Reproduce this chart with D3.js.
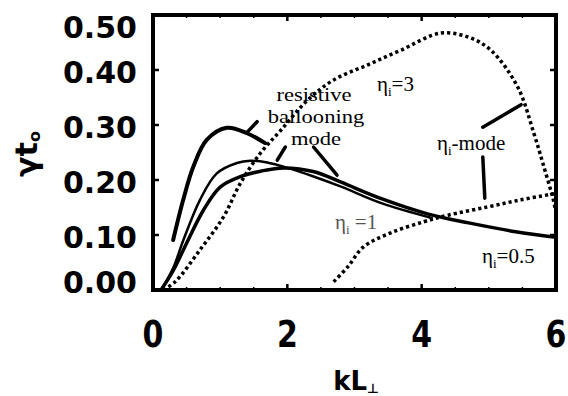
<!DOCTYPE html>
<html>
<head>
<meta charset="utf-8">
<script src="https://cdn.jsdelivr.net/npm/d3@7"></script>
<style>
	body { margin: 0; background: #fff; }
	svg { display: block; }
</style>
</head>
<body>
<svg id="chart" width="568" height="396"></svg>
<script>

// growth rate curves, [kL, gamma t0]
const curveHigh = [[0.30, 0.091], [0.45, 0.164], [0.60, 0.224], [0.80, 0.273], [1.10, 0.295], [1.40, 0.285], [1.67, 0.267]];
const curveMid = [[0.12, 0.0], [0.30, 0.040], [0.45, 0.090], [0.70, 0.164], [0.95, 0.212], [1.25, 0.231], [1.45, 0.235], [1.70, 0.232], [2.00, 0.222], [2.40, 0.206], [2.80, 0.188], [3.40, 0.158], [4.15, 0.131]];
const curveLow = [[0.12, 0.0], [0.30, 0.035], [0.50, 0.085], [0.75, 0.145], [1.00, 0.187], [1.30, 0.206], [1.60, 0.216], [1.95, 0.222], [2.40, 0.215], [2.80, 0.196], [3.40, 0.166], [4.10, 0.138], [4.70, 0.122], [5.40, 0.106], [6.00, 0.096]];
const etaThree = [[0.15, 0.0], [0.33, 0.015], [0.70, 0.073], [1.05, 0.133], [1.30, 0.194], [1.60, 0.249], [1.90, 0.290], [2.30, 0.345], [2.69, 0.382], [3.19, 0.409], [3.69, 0.436], [4.28, 0.467], [4.69, 0.460], [5.03, 0.436], [5.43, 0.369], [5.67, 0.285], [5.82, 0.224], [5.96, 0.164], [6.00, 0.140]];
const etaOne = [[2.69, 0.015], [2.90, 0.042], [3.13, 0.078], [3.54, 0.104], [4.03, 0.124], [4.39, 0.136], [4.98, 0.151], [5.48, 0.164], [5.97, 0.175]];

// label pointer segments
const pointers = [
	[[1.41, 0.288], [1.55, 0.306]],
	[[1.85, 0.236], [1.97, 0.260]],
	[[2.39, 0.260], [2.74, 0.209]],
	[[4.91, 0.296], [5.48, 0.337]],
	[[4.91, 0.242], [4.94, 0.167]]
];

const xTicks = [0, 2, 4, 6];
const yTicks = [0, 0.1, 0.2, 0.3, 0.4, 0.5];
const xMinor = [0.5, 1, 1.5, 2.5, 3, 3.5, 4.5, 5, 5.5];

const svg = d3.select('#chart');
const x = d3.scaleLinear().domain([0, 6]).range([153, 556]);
const y = d3.scaleLinear().domain([0, 0.5]).range([290, 15]);

const line = d3.line()
	.x(d => x(d[0]))
	.y(d => y(d[1]))
	.curve(d3.curveCatmullRom.alpha(0.5));

// ticks, inward
const ticks = svg.append('g').attr('stroke', '#000').attr('stroke-width', 2.5);
yTicks.forEach(v => {
	ticks.append('line').attr('x1', x(0)).attr('x2', x(0) + 6).attr('y1', y(v)).attr('y2', y(v));
	ticks.append('line').attr('x1', x(6)).attr('x2', x(6) - 6).attr('y1', y(v)).attr('y2', y(v));
});
xTicks.forEach(v => {
	ticks.append('line').attr('x1', x(v)).attr('x2', x(v)).attr('y1', y(0)).attr('y2', y(0) - 6);
	ticks.append('line').attr('x1', x(v)).attr('x2', x(v)).attr('y1', y(0.5)).attr('y2', y(0.5) + 6);
});
xMinor.forEach(v => {
	ticks.append('line').attr('stroke-width', 1.5).attr('x1', x(v)).attr('x2', x(v)).attr('y1', y(0)).attr('y2', y(0) - 3);
	ticks.append('line').attr('stroke-width', 1.5).attr('x1', x(v)).attr('x2', x(v)).attr('y1', y(0.5)).attr('y2', y(0.5) + 3);
});

// frame
svg.append('rect')
	.attr('x', x(0)).attr('y', y(0.5))
	.attr('width', x(6) - x(0)).attr('height', y(0) - y(0.5))
	.attr('fill', 'none').attr('stroke', '#000').attr('stroke-width', 4);

// curves
const curves = svg.append('g').attr('fill', 'none').attr('stroke', '#000').attr('stroke-linecap', 'round');
curves.append('path').datum(curveHigh).attr('d', line).attr('stroke-width', 4);
curves.append('path').datum(curveMid).attr('d', line).attr('stroke-width', 2.5);
curves.append('path').datum(curveLow).attr('d', line).attr('stroke-width', 3.5);
curves.append('path').datum(etaThree).attr('d', line)
	.attr('stroke-width', 3.5).attr('stroke-linecap', 'butt').attr('stroke-dasharray', '3.2 3');
curves.append('path').datum(etaOne).attr('d', line)
	.attr('stroke-width', 3.5).attr('stroke-linecap', 'butt').attr('stroke-dasharray', '3.2 3');

pointers.forEach(p => {
	curves.append('line')
		.attr('x1', x(p[0][0])).attr('y1', y(p[0][1]))
		.attr('x2', x(p[1][0])).attr('y2', y(p[1][1]))
		.attr('stroke-width', 3.5);
});

// tick labels
const bold = 'DejaVu Sans, sans-serif';
svg.append('g').selectAll('text').data(yTicks).join('text')
	.attr('x', 137)
	.attr('y', d => Math.min(Math.max(y(d) + 2, 27), 282) + 11)
	.attr('text-anchor', 'end')
	.attr('font-family', bold).attr('font-weight', 'bold').attr('font-size', 30)
	.text(d => d3.format('.2f')(d));

svg.append('g').selectAll('text').data(xTicks).join('text')
	.attr('transform', d => `translate(${x(d)},347) scale(1,1.25)`)
	.attr('text-anchor', 'middle')
	.attr('font-family', bold).attr('font-weight', 'bold').attr('font-size', 30)
	.text(d => d);

// axis titles
const yt = svg.append('text')
	.attr('transform', 'translate(37,154) rotate(-90)')
	.attr('text-anchor', 'middle')
	.attr('font-family', bold).attr('font-weight', 'bold').attr('font-size', 30);
yt.append('tspan').text('γt');
yt.append('tspan').attr('font-size', 16).attr('dy', 3).text('o');

const xt = svg.append('text')
	.attr('x', 356).attr('y', 390)
	.attr('text-anchor', 'middle')
	.attr('font-family', bold).attr('font-weight', 'bold').attr('font-size', 26);
xt.append('tspan').text('kL');
xt.append('tspan').attr('font-size', 13).attr('dy', 3).text('⊥');

// annotations
const serif = 'Liberation Serif, Times New Roman, serif';
const notes = svg.append('g').attr('font-family', serif).attr('font-size', 21).attr('fill', '#000');
const rb = notes.append('g').attr('font-size', 18.5);
[['resistive', 314, 101], ['ballooning', 316, 123], ['mode', 316, 145]].forEach(([s, px, py]) => {
	rb.append('text')
		.attr('transform', `translate(${px},${py}) scale(1.22,1)`)
		.attr('text-anchor', 'middle')
		.text(s);
});

function etaLabel(px, py, rest, color) {
	const t = notes.append('text').attr('x', px).attr('y', py).attr('fill', color || '#000');
	t.append('tspan').text('η');
	t.append('tspan').attr('font-size', 13).attr('dy', 5).text('i');
	t.append('tspan').attr('dy', -5).text(rest);
}
etaLabel(377, 91, '=3');
etaLabel(437, 150, '-mode');
etaLabel(335, 229, ' =1', '#555');
etaLabel(482, 263, '=0.5');

</script>
</body>
</html>
